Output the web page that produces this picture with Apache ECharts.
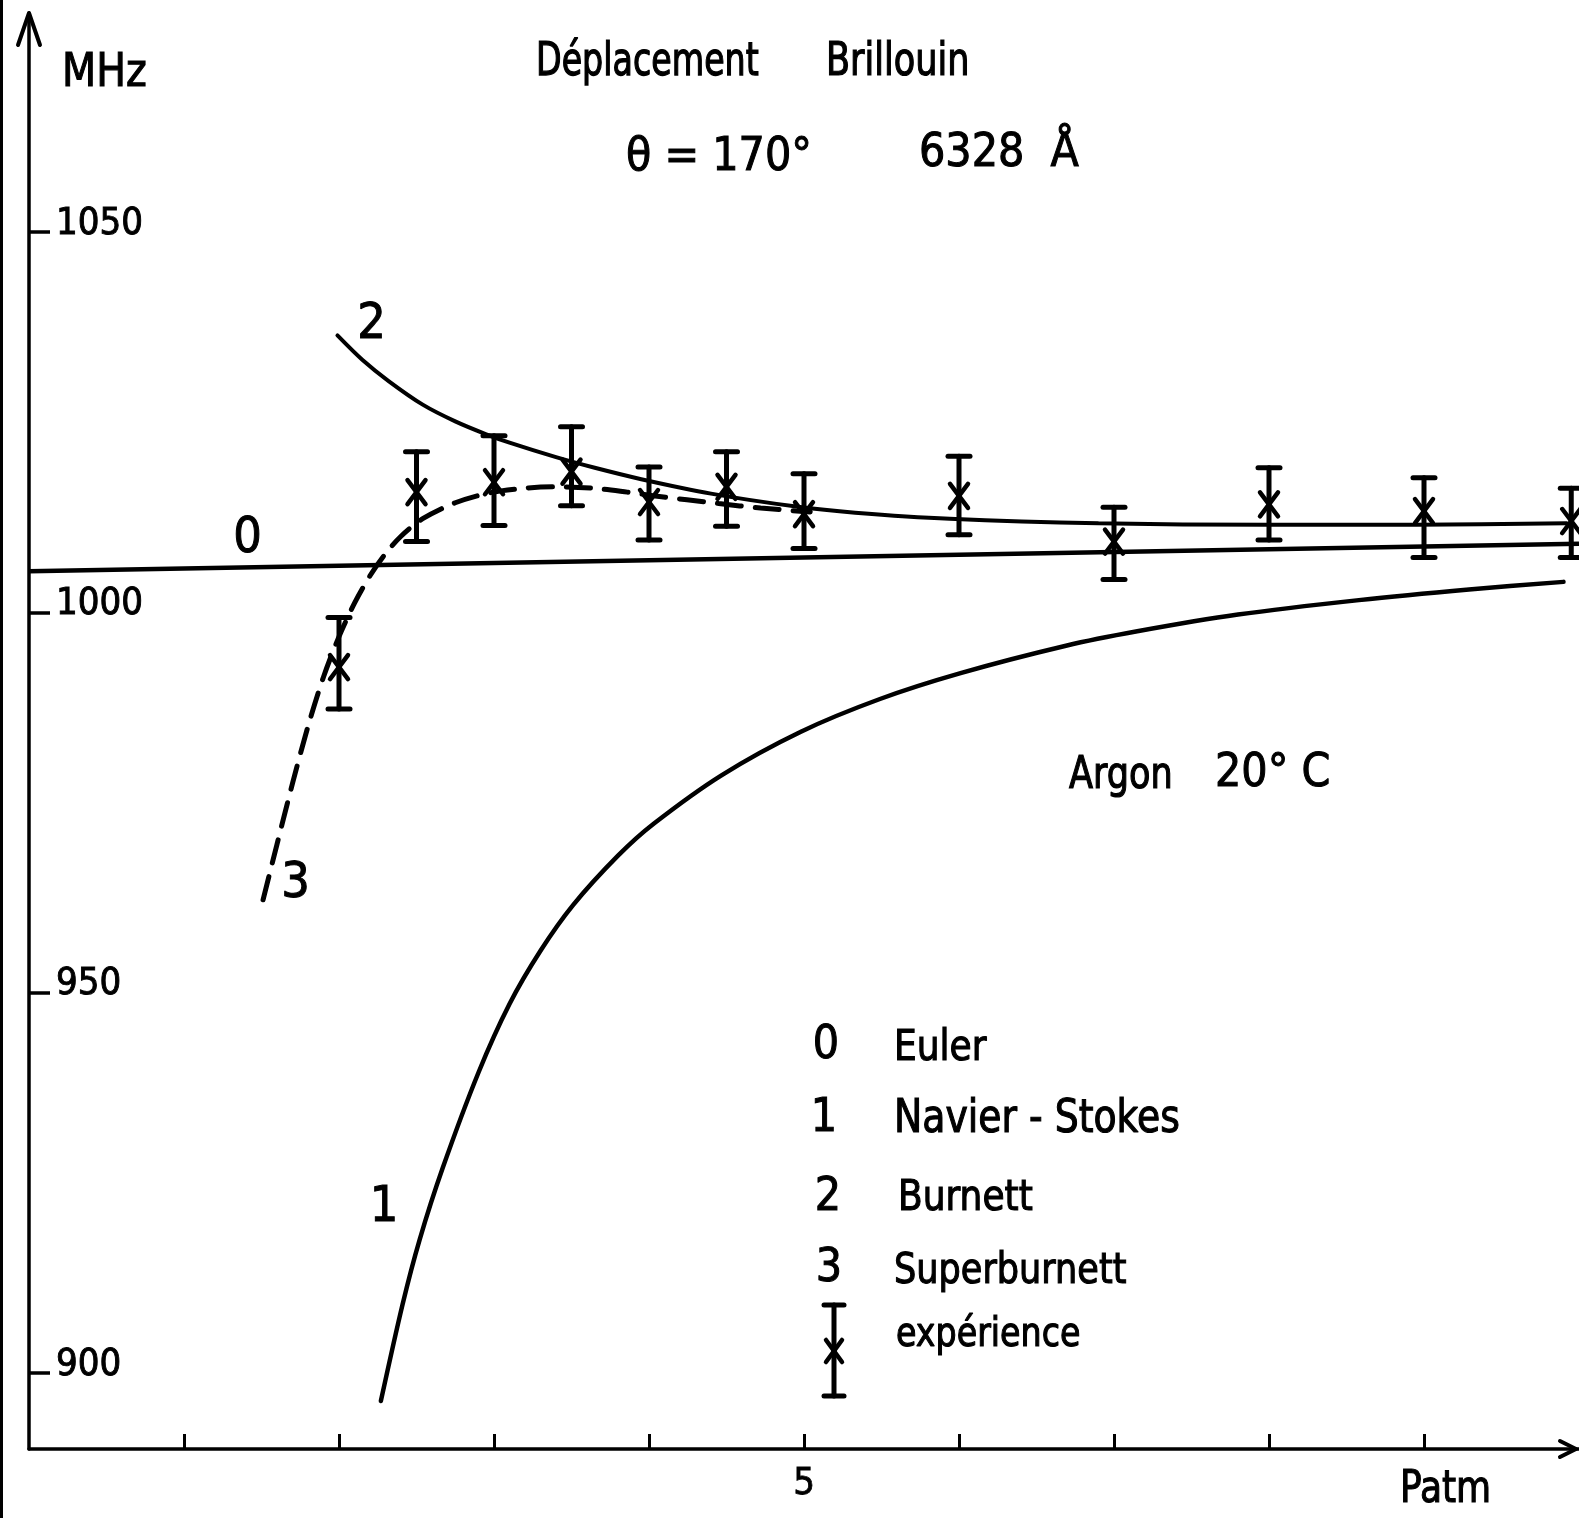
<!DOCTYPE html>
<html>
<head>
<meta charset="utf-8">
<script src="https://cdn.jsdelivr.net/npm/echarts@6/dist/echarts.min.js"></script>
<style>
html,body{margin:0;padding:0;background:#fff;}
#chart{width:1579px;height:1518px;}
</style>
</head>
<body>
<div id="chart"></div>
<script>
// ---------- data ----------
const pressureTicks = [1, 2, 3, 4, 5, 6, 7, 8, 9];
const pressureLabels = [5];
const freqTicks = [900, 950, 1000, 1050];

// curve 0 : Euler  [P (atm), shift (MHz)]
const euler = [[0, 1005.4], [10, 1009.0]];

// curve 1 : Navier - Stokes
const navierStokes = [
  [2.27, 896.3], [2.41, 909.0], [2.52, 917.5], [2.67, 927.0], [2.90, 939.5],
  [3.10, 948.5], [3.30, 955.5], [3.51, 961.5], [3.80, 968.0], [4.03, 972.2],
  [4.47, 978.6], [4.98, 984.3], [5.49, 988.6], [6.01, 992.0], [6.69, 995.6],
  [7.15, 997.5], [7.80, 999.7], [8.58, 1001.6], [9.29, 1003.0], [9.90, 1004.0]
];

// curve 2 : Burnett
const burnett = [
  [1.99, 1036.4], [2.15, 1033.2], [2.32, 1030.4], [2.54, 1027.3], [2.75, 1025.1],
  [2.95, 1023.4], [3.10, 1022.3], [3.40, 1020.4], [3.65, 1019.0], [3.95, 1017.5],
  [4.40, 1015.6], [4.95, 1013.9], [5.33, 1013.1], [5.94, 1012.3], [6.90, 1011.7],
  [7.99, 1011.5], [8.95, 1011.5], [9.92, 1011.7]
];

// curve 3 : Superburnett (dashed)
const superBurnett = [
  [1.51, 962.2], [1.60, 969.5], [1.70, 977.5], [1.80, 985.0], [1.90, 991.5],
  [2.00, 996.8], [2.10, 1001.2], [2.20, 1004.8], [2.30, 1007.7], [2.40, 1010.0],
  [2.54, 1012.3], [2.75, 1014.4], [2.97, 1015.7], [3.19, 1016.3], [3.40, 1016.5],
  [3.65, 1016.3], [3.86, 1015.8], [4.04, 1015.3], [4.45, 1014.3], [4.72, 1013.7],
  [5.04, 1013.2]
];

// experiment : pressure, measured value, lower and upper error-bar ends
const expP    = [2, 2.5, 3, 3.5, 4, 4.5, 5, 6, 7, 8, 9, 9.95];
const expV    = [992.8, 1015.8, 1017.1, 1018.5, 1014.5, 1016.5, 1012.9, 1015.3, 1009.3, 1014.2, 1013.3, 1012.0];
const expLow  = [987.3, 1009.3, 1011.4, 1014.0, 1009.5, 1011.3, 1008.4, 1010.2, 1004.3, 1009.5, 1007.2, 1007.2];
const expHigh = [999.3, 1021.1, 1023.2, 1024.4, 1019.1, 1021.1, 1018.2, 1020.5, 1013.8, 1019.0, 1017.7, 1016.3];

// curve number labels placed in data space
const curveLabels = [
  [1.41, 1009.6, '0'],
  [2.29, 921.7, '1'],
  [2.21, 1037.8, '2'],
  [1.72, 964.3, '3']
];

// ---------- styling ----------
const WORD = '"DejaVu Sans Condensed","DejaVu Sans",sans-serif';
const NUM = '"DejaVu Sans Condensed","DejaVu Sans",sans-serif';
const INK = '#000';

const expData = expP.map((p, i) => [p, expV[i], expLow[i], expHigh[i]]);

function errorBar(params, api) {
  const p = api.value(0);
  const c = api.coord([p, api.value(1)]);
  const lo = api.coord([p, api.value(2)]);
  const hi = api.coord([p, api.value(3)]);
  const cap = 11, xw = 9, xh = 12;
  const st = {stroke: INK, lineWidth: 5, lineCap: 'round'};
  const st2 = {stroke: INK, lineWidth: 4.5, lineCap: 'round'};
  return {
    type: 'group',
    children: [
      {type: 'line', shape: {x1: hi[0], y1: hi[1], x2: lo[0], y2: lo[1]}, style: st},
      {type: 'line', shape: {x1: hi[0] - cap, y1: hi[1], x2: hi[0] + cap, y2: hi[1]}, style: st},
      {type: 'line', shape: {x1: lo[0] - cap, y1: lo[1], x2: lo[0] + cap, y2: lo[1]}, style: st},
      {type: 'line', shape: {x1: c[0] - xw, y1: c[1] - xh, x2: c[0] + xw, y2: c[1] + xh}, style: st2},
      {type: 'line', shape: {x1: c[0] + xw, y1: c[1] - xh, x2: c[0] - xw, y2: c[1] + xh}, style: st2}
    ]
  };
}

function txt(text, x, y, size, family, sy, align) {
  return {
    type: 'text', x: x, y: y, scaleY: sy || 1,
    style: {text: text, fill: INK, stroke: INK, lineWidth: 1,
            font: size + 'px ' + family,
            textAlign: align || 'left', textVerticalAlign: 'middle'}
  };
}

const legendBarX = 834, legendTop = 1305, legendMid = 1351, legendBot = 1396;
const lst = {stroke: INK, lineWidth: 5, lineCap: 'round'};
const lst2 = {stroke: INK, lineWidth: 4.5, lineCap: 'round'};
const arrowSt = {stroke: INK, lineWidth: 4, fill: null, lineCap: 'round', lineJoin: 'round'};

const graphics = [
  {type: 'rect', shape: {x: 0, y: 0, width: 3, height: 1518}, style: {fill: INK}},
  // axis arrow heads
  {type: 'polyline', shape: {points: [[18, 45], [29, 13], [40, 45]]}, style: arrowSt},
  {type: 'line', shape: {x1: 29, y1: 13, x2: 29, y2: 20}, style: {stroke: INK, lineWidth: 3.5}},
  {type: 'polyline', shape: {points: [[1560, 1441], [1576, 1449], [1560, 1457]]}, style: arrowSt},
  // titles and annotations
  txt('MHz', 62, 74, 44, WORD, 1.05),
  txt('Déplacement', 536, 63, 37, WORD, 1.25),
  txt('Brillouin', 826, 63, 39, WORD, 1.2),
  txt('θ = 170°', 626, 158, 46, NUM),
  txt('6328  Å', 919, 154, 46, NUM),
  txt('Argon', 1069, 776, 39, WORD, 1.15),
  txt('20° C', 1215, 774, 46, NUM),
  txt('Patm', 1400, 1491, 40, WORD, 1.1),
  // legend
  txt('0', 826, 1046, 46, NUM, 1, 'center'),
  txt('Euler', 894, 1049, 40, WORD, 1.08),
  txt('1', 824, 1119, 46, NUM, 1, 'center'),
  txt('Navier - Stokes', 894, 1120, 42, WORD, 1.08),
  txt('2', 828, 1198, 46, NUM, 1, 'center'),
  txt('Burnett', 898, 1199, 40, WORD, 1.08),
  txt('3', 829, 1269, 46, NUM, 1, 'center'),
  txt('Superburnett', 894, 1272, 39, WORD, 1.08),
  txt('expérience', 896, 1336, 37, WORD, 1.08),
  {type: 'line', shape: {x1: legendBarX, y1: legendTop, x2: legendBarX, y2: legendBot}, style: lst},
  {type: 'line', shape: {x1: legendBarX - 10, y1: legendTop, x2: legendBarX + 10, y2: legendTop}, style: lst},
  {type: 'line', shape: {x1: legendBarX - 10, y1: legendBot, x2: legendBarX + 10, y2: legendBot}, style: lst},
  {type: 'line', shape: {x1: legendBarX - 8, y1: legendMid - 11, x2: legendBarX + 8, y2: legendMid + 11}, style: lst2},
  {type: 'line', shape: {x1: legendBarX + 8, y1: legendMid - 11, x2: legendBarX - 8, y2: legendMid + 11}, style: lst2}
];

const chart = echarts.init(document.getElementById('chart'), null, {renderer: 'canvas'});
chart.setOption({
  animation: false,
  backgroundColor: '#fff',
  grid: {left: 29, top: 19, width: 1551, height: 1430, containLabel: false},
  xAxis: {
    type: 'value', min: 0, max: 10,
    splitLine: {show: false},
    axisLine: {show: true, onZero: false, lineStyle: {color: INK, width: 3.5}},
    axisTick: {show: true, inside: true, length: 15, lineStyle: {color: INK, width: 3},
               customValues: pressureTicks},
    axisLabel: {show: true, customValues: pressureLabels, margin: 16, color: INK,
                fontSize: 38, fontFamily: NUM, textBorderColor: INK, textBorderWidth: 0.8,
                formatter: v => String(v)}
  },
  yAxis: {
    type: 'value', min: 890, max: 1078,
    splitLine: {show: false},
    axisLine: {show: true, onZero: false, lineStyle: {color: INK, width: 3.5}},
    axisTick: {show: true, inside: true, length: 21, lineStyle: {color: INK, width: 3.5},
               customValues: freqTicks},
    axisLabel: {show: true, inside: true, customValues: freqTicks, margin: 27, color: INK,
                fontSize: 38, fontFamily: NUM, align: 'left', verticalAlign: 'bottom',
                lineHeight: 16, textBorderColor: INK, textBorderWidth: 0.9,
                formatter: v => String(v)}
  },
  series: [
    {name: 'Euler', type: 'line', data: euler, showSymbol: false, symbol: 'none',
     lineStyle: {color: INK, width: 4.5}},
    {name: 'Navier - Stokes', type: 'line', data: navierStokes, symbol: 'none', smooth: 0.3,
     lineStyle: {color: INK, width: 4.5, cap: 'round'}},
    {name: 'Burnett', type: 'line', data: burnett, symbol: 'none', smooth: 0.3,
     lineStyle: {color: INK, width: 4, cap: 'round'}},
    {name: 'Superburnett', type: 'line', data: superBurnett, symbol: 'none', smooth: 0.3,
     lineStyle: {color: INK, width: 5, type: [24, 14], cap: 'round'}},
    {name: 'expérience', type: 'custom', data: expData, renderItem: errorBar, clip: false, z: 5},
    {name: 'labels', type: 'scatter', data: curveLabels, symbolSize: 0, silent: true,
     itemStyle: {opacity: 1},
     label: {show: true, position: 'inside', formatter: p => p.value[2], color: INK,
             opacity: 1, fontSize: 50, fontFamily: NUM, textBorderColor: INK, textBorderWidth: 1}}
  ],
  graphic: graphics
});
</script>
</body>
</html>
